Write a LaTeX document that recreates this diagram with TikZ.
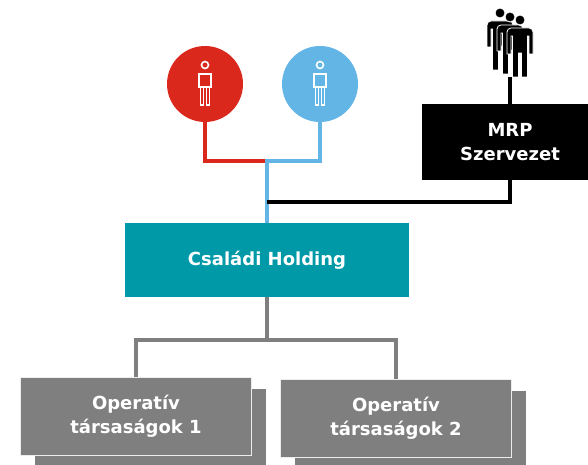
\documentclass[tikz,border=0pt]{standalone}
\usepackage{fontspec}
\setmainfont{DejaVu Sans}
\usetikzlibrary{positioning,shadows,calc}
\definecolor{famred}{HTML}{DA291C}
\definecolor{famblue}{HTML}{62B5E5}
\definecolor{holdteal}{HTML}{0099A8}
\definecolor{opgray}{HTML}{7F7F7F}

\begin{document}
\begin{tikzpicture}[x=1pt, y=-1pt,
        nodes={font=\fontsize{18}{24}\selectfont\bfseries, text=white, align=center},
        owner/.style={circle, minimum size=76pt, inner sep=0pt},
        box/.style={rectangle, minimum width=#1, minimum height=76pt, inner sep=0pt},
        opbox/.style={box=231pt, minimum height=78pt, fill=opgray,
            draw=white!85!gray, line width=1pt,
            drop shadow={shadow xshift=14pt, shadow yshift=-12pt, fill=opgray, opacity=1}},
        link/.style={line width=3.5pt}]
   \useasboundingbox (0,0) rectangle (588,465);

   % owners
   \node[owner, fill=famred] (owner1) at (205,84) {};
   \node[owner, fill=famblue] (owner2) at (320,84) {};
   \foreach \p in {owner1,owner2}{
     \begin{scope}[shift={(\p.center)}, white, line width=1.6pt]
       \draw (0,-19) circle (3.5);
       \draw (-6,-10) rectangle (6,3);
       \draw (-4.5,3) rectangle (-1.5,21) (1.5,3) rectangle (4.5,21);
     \end{scope}}

   % MRP members
   \foreach \dx/\dy in {0/0,10/4,20/7}{
     \begin{scope}[shift={(500+\dx,13+\dy)}]
       \fill[black, draw=white, line width=0.8pt] (0,0) circle (5);
       \fill[black, draw=white, line width=0.8pt]
         (-13,34) -- (-13,12) arc (180:270:4) -- (9,8) arc (270:360:4) -- (13,34)
         -- (9,34) -- (9,16) -- (7.5,16) -- (7.5,57) -- (1.5,57) -- (1.5,33)
         -- (-1.5,33) -- (-1.5,57) -- (-7.5,57) -- (-7.5,16) -- (-9,16) -- (-9,34) -- cycle;
     \end{scope}}
   \coordinate (team) at (510,77);

   % boxes
   \node[box=176pt, fill=black] (mrp) at (510,142) {MRP\\Szervezet};
   \node[box=284pt, minimum height=74pt, fill=holdteal] (holding) at (267,260) {Családi Holding};
   \node[opbox] (op1) at (136,416) {Operatív\\társaságok 1};
   \node[opbox] (op2) at (396,418) {Operatív\\társaságok 2};

   % connectors
   \coordinate (join) at (267,161);
   \coordinate (mrpjoin) at (267,202);
   \coordinate (split) at (267,340);
   \draw[link, famred] (owner1.south) |- (join);
   \draw[link, famblue] (owner2.south) |- (join) -- (holding.north);
   \draw[link, black] (team) -- (mrp.north);
   \draw[link, black] (mrp.south) |- (mrpjoin);
   \draw[link, opgray] (holding.south) -- (split) -| (op1.north);
   \draw[link, opgray] (split) -| (op2.north);
\end{tikzpicture}
\end{document}
